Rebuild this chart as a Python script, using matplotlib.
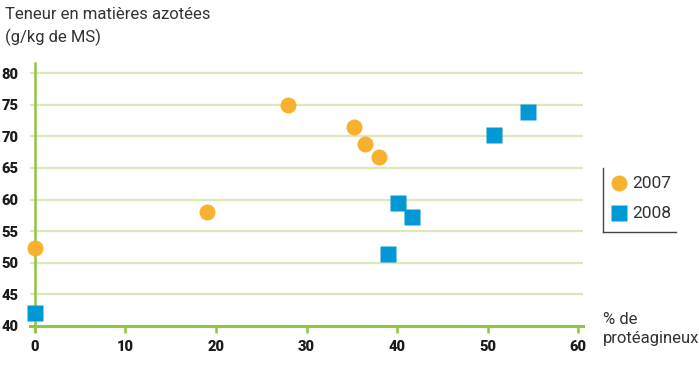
import numpy as np
import matplotlib.pyplot as plt
from matplotlib.lines import Line2D

# data
x2007 = [0, 19, 28, 35.3, 36.5, 38]
y2007 = [52.4, 58.1, 75.0, 71.5, 68.8, 66.8]
x2008 = [0, 39, 40.1, 41.7, 50.7, 54.5]
y2008 = [42.1, 51.4, 59.4, 57.3, 70.2, 73.9]
xticks = [0, 10, 20, 30, 40, 50, 60]
yticks = [40, 45, 50, 55, 60, 65, 70, 75, 80]

orange = '#F7B12E'
blue = '#0099D5'
green = '#8DC63F'
grid_green = '#DCE9B6'
txt = '#333333'
fam = ['Roboto', 'DejaVu Sans']

fig = plt.figure(figsize=(6.99, 3.65), dpi=100)
ax = fig.add_axes([30/699, 1 - 331/365, 553/699, 268/365])
ax.set_xlim(-0.55, 60.55)
ax.set_ylim(39.2, 81.6)

for y in yticks[1:]:
    ax.axhline(y, color=grid_green, lw=1.6, zorder=1)

ax.spines['top'].set_visible(False)
ax.spines['right'].set_visible(False)
ax.spines['left'].set_position(('data', 0))
ax.spines['bottom'].set_position(('data', 40))
ax.spines['left'].set_color(green)
ax.spines['bottom'].set_color(green)
ax.spines['left'].set_linewidth(1.8)
ax.spines['bottom'].set_linewidth(2.2)

ax.set_xticks(xticks)
ax.set_yticks(yticks)
ax.tick_params(axis='x', color=green, width=1.8, length=5, pad=5)
ax.tick_params(axis='y', length=0, pad=12)
tick_font = dict(family=fam, weight='heavy', size=10.5)
ax.set_xticklabels([str(v) for v in xticks], color='#1a1a1a', **tick_font)
ax.set_yticklabels([str(v) for v in yticks], color='#1a1a1a', **tick_font)

ax.plot(x2007, y2007, 'o', color=orange, ms=11.5, mec='none', zorder=3, clip_on=False)
ax.plot(x2008, y2008, 's', color=blue, ms=11, mec='none', zorder=3, clip_on=False)

fig.text(5/699, 1 - 7/365, 'Teneur en matières azotées\n(g/kg de MS)', color=txt,
         fontsize=12, family=fam, va='top', linespacing=1.5)
fig.text(603/699, 1 - 312/365, '% de\nprotéagineux', color=txt,
         fontsize=12, family=fam, va='top', linespacing=1.35)

# legend box (left and bottom rules)
fig.add_artist(Line2D([603/699, 603/699], [1 - 168/365, 1 - 232/365], color='#444444', lw=1))
fig.add_artist(Line2D([603/699, 676/699], [1 - 232/365, 1 - 232/365], color='#444444', lw=1))
fig.add_artist(Line2D([619/699], [1 - 183/365], marker='o', color=orange, ms=11.5, mec='none'))
fig.add_artist(Line2D([619/699], [1 - 213/365], marker='s', color=blue, ms=11, mec='none'))
fig.text(632/699, 1 - 183/365, '2007', color=txt, fontsize=12.5, family=fam, va='center')
fig.text(632/699, 1 - 213/365, '2008', color=txt, fontsize=12.5, family=fam, va='center')

fig.savefig('out.png', dpi=100)
